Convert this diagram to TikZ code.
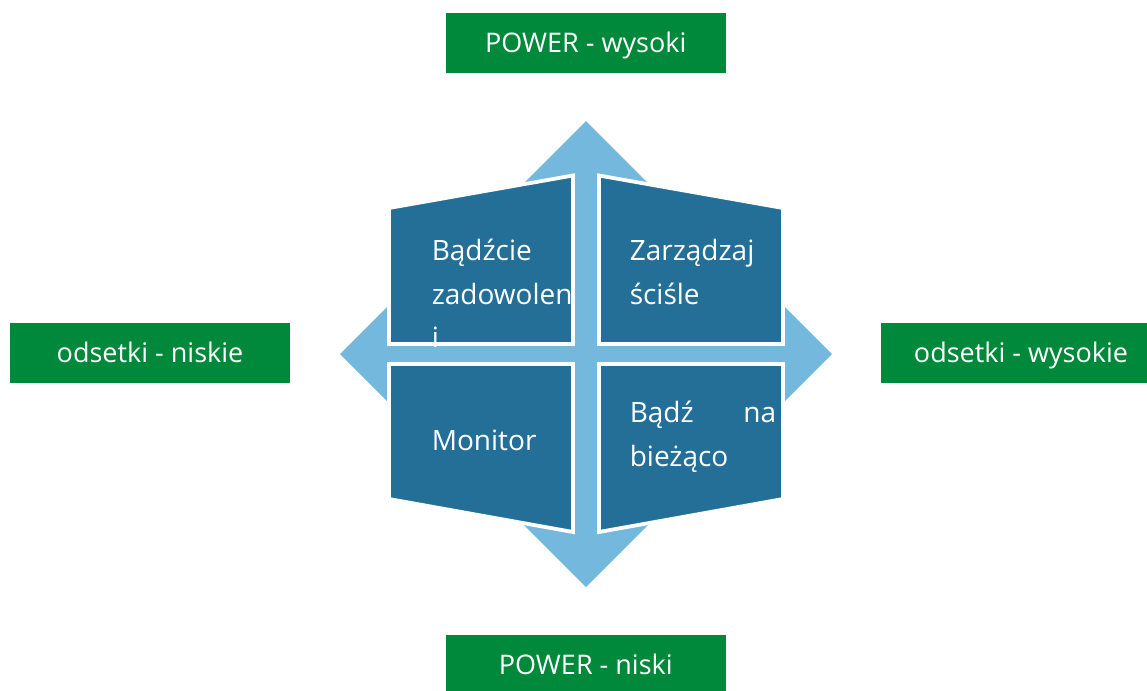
\documentclass[tikz,border=0pt]{standalone}
\usepackage{fontspec}
\setmainfont{Open Sans}
\definecolor{arrowblue}{RGB}{116,185,221}
\definecolor{quadblue}{RGB}{35,111,152}
\definecolor{labelgreen}{RGB}{0,137,58}
\begin{document}
\begin{tikzpicture}[x=0.75pt,y=-0.75pt,
  every node/.style={font=\fontsize{20.25}{32}\selectfont, text=white},
  greenbox/.style={fill=labelgreen, minimum width=210pt, minimum height=45pt,
    inner sep=0pt, text height=14.5pt, text depth=0pt},
  quad/.style={fill=quadblue, draw=white, line width=2.85pt, line join=miter},
  qtext/.style={anchor=base west, inner sep=0pt, font=\fontsize{21}{32}\selectfont},
  qtextr/.style={anchor=base east, inner sep=0pt, font=\fontsize{21}{32}\selectfont}
]
\useasboundingbox (0,0) rectangle (1147,690);
\clip (0,0) rectangle (1147,690);

% four-way arrow behind the quadrants
\fill[arrowblue] (586,121) -- (686,221) -- (626,221) -- (626,314) -- (732,314)
  -- (732,254) -- (832,354) -- (732,454) -- (732,394) -- (626,394) -- (626,487)
  -- (686,487) -- (586,587) -- (486,487) -- (546,487) -- (546,394) -- (440,394)
  -- (440,454) -- (340,354) -- (440,254) -- (440,314) -- (546,314) -- (546,221)
  -- (486,221) -- cycle;

% quadrants
\draw[quad] (389,208) -- (573,175.5) -- (573,344) -- (389,344) -- cycle;
\draw[quad] (599,175.5) -- (783,208) -- (783,344) -- (599,344) -- cycle;
\draw[quad] (389,364) -- (573,364) -- (573,532) -- (389,499) -- cycle;
\draw[quad] (599,364) -- (783,364) -- (783,499) -- (599,532) -- cycle;

% quadrant texts
\node[qtext] (tla) at (431.5,260.7) {Bądźcie};
\node[qtext] (tlb) at (431.5,304) {zadowolen};
\node[qtext] (tlc) at (431.5,347) {i};
\node[qtext] (tra) at (629.5,260.7) {Zarządzaj};
\node[qtext] (trb) at (629.5,304) {ściśle};
\node[qtext] (bla) at (431.5,450) {Monitor};
\node[qtext] (bra) at (629.5,422.3) {Bądź};
\node[qtextr] (brb) at (776.5,422.3) {na};
\node[qtext] (brc) at (629.5,466) {bieżąco};

% axis labels
\node[greenbox] (powerhigh) at (585.8,43) {POWER - wysoki};
\node[greenbox] (powerlow) at (585.8,665) {POWER - niski};
\node[greenbox] (ratelow) at (150,352.5) {odsetki - niskie};
\node[greenbox] (ratehigh) at (1021,352.5) {odsetki - wysokie};
\end{tikzpicture}
\end{document}
